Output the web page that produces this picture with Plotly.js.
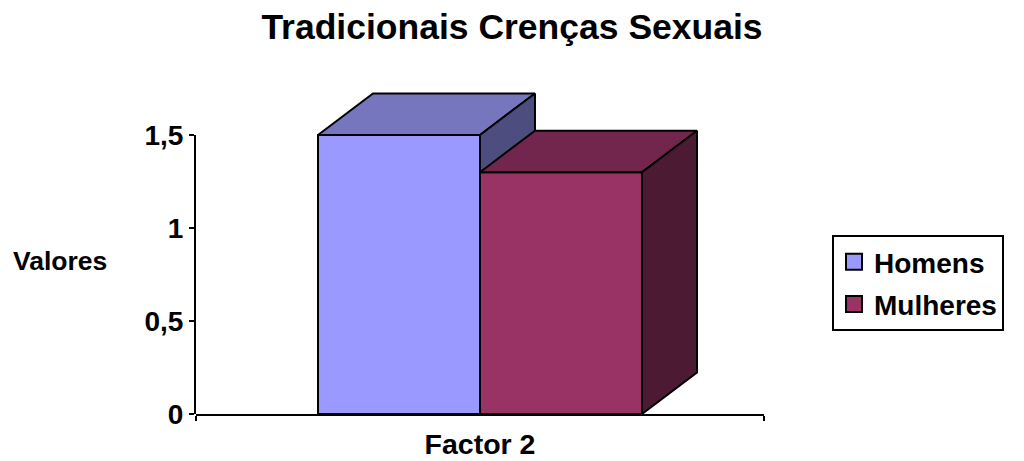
<!DOCTYPE html>
<html>
<head>
<meta charset="utf-8">
<script src="https://cdn.plot.ly/plotly-3.0.1.min.js"></script>
<style>html,body{margin:0;padding:0;background:#fff;}#chart{width:1024px;height:461px;}</style>
</head>
<body>
<div id="chart"></div>
<script>
// ---- data ----
const chartTitle = 'Tradicionais Crenças Sexuais';
const categories = ['Factor 2'];
const seriesNames = ['Homens', 'Mulheres'];
const homensValues = [1.5];
const mulheresValues = [1.3];
const yTickVals = [0, 0.5, 1, 1.5];
const yTickText = ['0', '0,5', '1', '1,5'];
const yAxisLabel = 'Valores';

// ---- style ----
const frontColors = ['#9999FF', '#993366'];
const topColors = ['#7676BE', '#73264D'];
const sideColors = ['#4D4D80', '#4D1A33'];
const FONT = 'Liberation Sans, Arial, sans-serif';

const W = 1024, H = 461;
const mL = 196, mR = 260, mT = 80, mB = 47;
const plotH = H - mT - mB;          // 334
const visTopPx = 135;               // pixel of 1.5
const pxPerUnit = (H - mB - visTopPx) / 1.5;
const yDataMax = plotH / pxPerUnit;
const visFrac = 1.5 / yDataMax;

const barW = 0.2852;                // fraction of category width
const depthX = 0.0968;              // x units
const depthY = 41.5 / pxPerUnit;    // y units

const allValues = [homensValues, mulheresValues];
const traces = [];

function polyTrace(pts, color) {
  const xs = pts.map(p => p[0]); xs.push(pts[0][0]);
  const ys = pts.map(p => p[1]); ys.push(pts[0][1]);
  return {
    type: 'scatter', mode: 'lines', x: xs, y: ys, fill: 'toself',
    fillcolor: color, line: {color: '#000', width: 2}, showlegend: false,
    hoverinfo: 'skip', xaxis: 'x', yaxis: 'y'
  };
}

categories.forEach((cat, k) => {
  const center = k + 0.5;
  allValues.forEach((vals, i) => {
    const v = vals[k];
    const x0 = center - barW * allValues.length / 2 + i * barW;
    const x1 = x0 + barW;
    // front
    traces.push(polyTrace([[x0, 0], [x1, 0], [x1, v], [x0, v]], frontColors[i]));
    // top
    traces.push(polyTrace([[x0, v], [x1, v], [x1 + depthX, v + depthY], [x0 + depthX, v + depthY]], topColors[i]));
    // side
    traces.push(polyTrace([[x1, 0], [x1, v], [x1 + depthX, v + depthY], [x1 + depthX, depthY]], sideColors[i]));
  });
});

// legend entries
seriesNames.forEach((name, i) => {
  traces.push({
    type: 'scatter', mode: 'markers', x: [null], y: [null], name: name,
    legendgroup: name,
    marker: {symbol: 'square', size: 16, color: frontColors[i], line: {color: '#000', width: 2}},
    xaxis: 'x', yaxis: 'y'
  });
});
// anchor trace for the visible value axis
traces.push({type: 'scatter', mode: 'markers', x: [null], y: [null], xaxis: 'x', yaxis: 'y2', showlegend: false, hoverinfo: 'skip'});

const layout = {
  width: W, height: H,
  margin: {l: mL, r: mR, t: mT, b: mB, pad: 0},
  paper_bgcolor: '#fff', plot_bgcolor: 'rgba(0,0,0,0)',
  separators: ',.',
  showlegend: true,
  title: {
    text: chartTitle, x: 0.5, xref: 'container', xanchor: 'center',
    y: 1 - 27 / H, yref: 'container', yanchor: 'middle',
    font: {family: FONT, size: 35.5, color: '#000', weight: 'bold'}
  },
  xaxis: {
    range: [0, categories.length], fixedrange: true,
    showline: true, linecolor: '#000', linewidth: 2,
    showgrid: false, zeroline: false,
    tickmode: 'array', tickvals: categories.map((c, k) => k + 0.5), ticktext: categories,
    ticks: '', ticklabelstandoff: 4,
    minor: {tickmode: 'array', tickvals: categories.map((c, k) => k).concat([categories.length]), ticks: 'outside', ticklen: 5, tickwidth: 2, tickcolor: '#000', showgrid: false},
    tickfont: {family: FONT, size: 28.5, color: '#000', weight: 'bold'},
    anchor: 'y'
  },
  yaxis: {
    range: [0, yDataMax], domain: [0, 1], visible: false, fixedrange: true
  },
  yaxis2: {
    range: [0, 1.5], domain: [0, visFrac], anchor: 'x', side: 'left',
    showline: true, linecolor: '#000', linewidth: 2,
    showgrid: false, zeroline: false,
    tickmode: 'array', tickvals: yTickVals, ticktext: yTickText,
    ticks: 'outside', ticklen: 5, tickwidth: 2, tickcolor: '#000',
    tickfont: {family: FONT, size: 28, color: '#000', weight: 'bold'},
    fixedrange: true
  },
  legend: {
    x: (832 - mL) / (W - mL - mR), xanchor: 'left',
    y: (H - mB - 235) / plotH, yanchor: 'top',
    bgcolor: '#fff', bordercolor: '#000', borderwidth: 2,
    font: {family: FONT, size: 28, color: '#000', weight: 'bold'},
    tracegroupgap: 3, itemwidth: 30
  },
  annotations: [{
    text: yAxisLabel, xref: 'paper', yref: 'paper',
    x: (60 - mL) / (W - mL - mR), y: (H - mB - 261) / plotH,
    xanchor: 'center', yanchor: 'middle', showarrow: false,
    font: {family: FONT, size: 26.5, color: '#000', weight: 'bold'}
  }]
};

Plotly.newPlot('chart', traces, layout, {displayModeBar: false, staticPlot: true});
</script>
</body>
</html>
